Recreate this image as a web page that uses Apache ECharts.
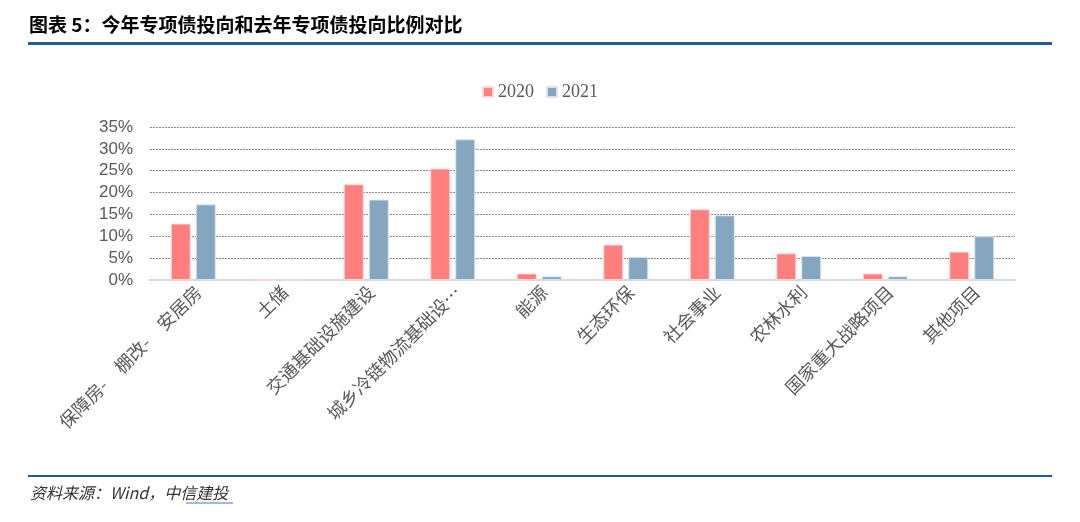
<!DOCTYPE html>
<html>
<head>
<meta charset="utf-8">
<script src="https://cdn.jsdelivr.net/npm/echarts@6/dist/echarts.min.js"></script>
<style>
html,body{margin:0;padding:0;background:#fff;}
#c{width:1080px;height:522px;}
</style>
</head>
<body>
<div id="c"></div>
<script>
var categories = ['保障房-　棚改-　安居房','土储','交通基础设施建设','城乡冷链物流基础设施','能源','生态环保','社会事业','农林水利','国家重大战略项目','其他项目'];
var series2020 = [12.9, 0, 21.9, 25.5, 1.5, 8.1, 16.2, 6.1, 1.5, 6.5];
var series2021 = [17.3, 0, 18.4, 32.2, 0.85, 5.3, 14.8, 5.5, 0.85, 10.0];
var seriesNames = ['2020','2021'];
var yTicks = {min:0, max:35, interval:5};
var titleText = '图表 5：今年专项债投向和去年专项债投向比例对比';
var sourceText = '资料来源：Wind，中信建投';

var chart = echarts.init(document.getElementById('c'), null, {renderer:'canvas'});
var cjk = '"Noto Sans CJK SC", "Noto Sans", sans-serif';
chart.setOption({
  backgroundColor:'#fff',
  animation:false,
  color:['#FF7F7F','#84A7BF'],
  legend:{
    data:seriesNames,
    top:78, left:'center',
    itemWidth:10, itemHeight:10, itemGap:12,
    icon:'rect',
    textStyle:{fontFamily:'"Liberation Serif", serif', fontSize:18, color:'#595959'}
  },
  grid:{left:150, right:65, top:127, bottom:242},
  xAxis:{
    type:'category',
    data:categories,
    axisLine:{lineStyle:{color:'#d9d9d9', width:2}},
    axisTick:{show:false},
    axisLabel:{
      rotate:45, interval:0, margin:14,
      padding:[0,-7,0,0],
      fontFamily:cjk, fontSize:18, color:'#595959',
      formatter:function(v){ return v.length>9 && v.indexOf('-')<0 ? v.slice(0,9)+'…' : v; }
    }
  },
  yAxis:{
    type:'value',
    min:yTicks.min, max:yTicks.max, interval:yTicks.interval,
    axisLine:{show:false}, axisTick:{show:false},
    axisLabel:{formatter:'{value}%', fontFamily:'"Liberation Sans", Arial, sans-serif', fontSize:17, color:'#595959', margin:17},
    splitLine:{lineStyle:{color:'#8a8a8a', type:[2,1], width:1}}
  },
  series:[
    {name:seriesNames[0], type:'bar', data:series2020, barWidth:20, barGap:'25%',
     itemStyle:{borderColor:'rgba(255,220,220,0.9)', borderWidth:1}},
    {name:seriesNames[1], type:'bar', data:series2021, barWidth:20,
     itemStyle:{borderColor:'rgba(220,230,240,0.9)', borderWidth:1}}
  ],
  graphic:[
    {type:'text', left:29, top:15, style:{text:titleText, font:'bold 19px '+cjk, fill:'#000'}},
    {type:'rect', shape:{x:28, y:42, width:1024, height:3}, style:{fill:'#1F5C99'}},
    {type:'rect', shape:{x:28, y:475, width:1024, height:2}, style:{fill:'#1F5C99'}},
    {type:'text', left:30, top:485, style:{text:sourceText, font:'italic 16px '+cjk, fill:'#333'}},
    {type:'line', shape:{x1:186, y1:503, x2:233, y2:503}, style:{stroke:'#4472C4', lineWidth:1}}
  ]
});
</script>
</body>
</html>
